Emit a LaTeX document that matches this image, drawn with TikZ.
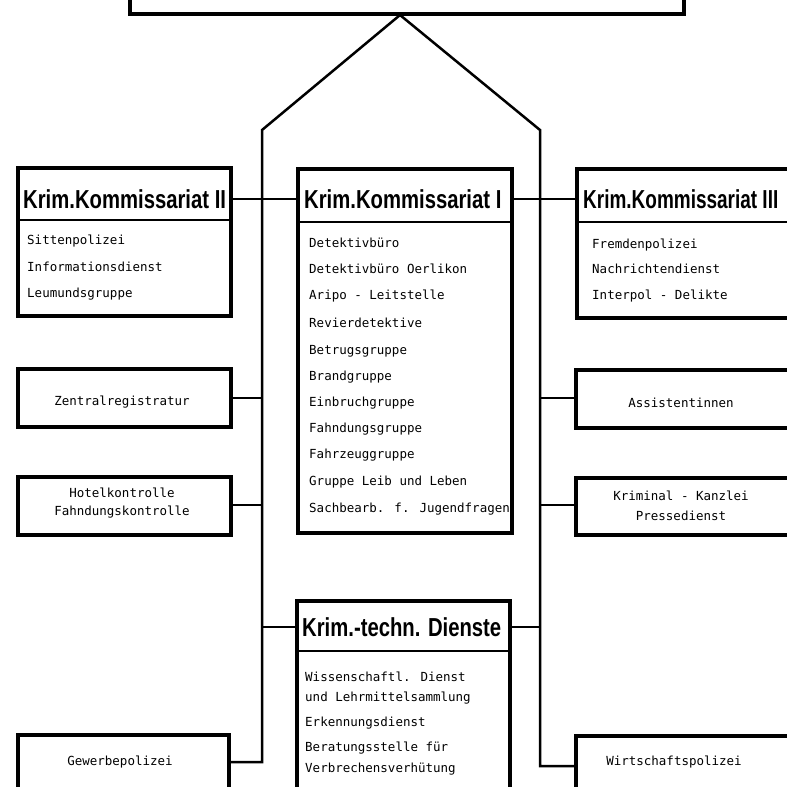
\documentclass[tikz,border=0pt]{standalone}
\usepackage{fontspec}
\newfontfamily\titlefont[FakeStretch=0.78]{Liberation Sans}
\newfontfamily\titlefontn[FakeStretch=0.73]{Liberation Sans}
\newfontfamily\itemfont{DejaVu Sans Mono}
\begin{document}
\begin{tikzpicture}[x=1pt,y=-1pt,
  box/.style={draw, line width=4pt, inner sep=0pt, anchor=north west},
  conn/.style={line width=2.5pt},
  divline/.style={line width=2pt},
  ttl/.style={font=\titlefont\fontsize{26}{26}\selectfont\bfseries, inner sep=0pt, anchor=west},
  itm/.style={font=\itemfont\fontsize{12.5}{12.5}\selectfont, inner sep=0pt, anchor=west},
  ctr/.style={font=\itemfont\fontsize{12.5}{12.5}\selectfont, inner sep=0pt, align=center}]
\useasboundingbox (0,0) rectangle (787,787);
\clip (0,0) rectangle (787,787);
\fill[white] (0,0) rectangle (787,787);

% boxes (border path at line centre)
\node[box, minimum width=554pt, minimum height=80pt] (top) at (128,-68) {};
\node[box, minimum width=213pt, minimum height=148pt] (k2) at (16,166) {};
\node[box, minimum width=214pt, minimum height=364pt] (k1) at (296,167) {};
\node[box, minimum width=214pt, minimum height=149pt] (k3) at (575,167) {};
\node[box, minimum width=213pt, minimum height=58pt] (zr) at (16,367) {};
\node[box, minimum width=213pt, minimum height=58pt] (hk) at (16,475) {};
\node[box, minimum width=211pt, minimum height=80pt] (gw) at (16,733) {};
\node[box, minimum width=213pt, minimum height=200pt] (tk) at (295,599) {};
\node[box, minimum width=214pt, minimum height=58pt] (as) at (574,368) {};
\node[box, minimum width=214pt, minimum height=57pt] (kk) at (574,476) {};
\node[box, minimum width=214pt, minimum height=80pt] (wp) at (574,734) {};

% dividers
\draw[divline] (k2.west |- 0,220) -- (k2.east |- 0,220);
\draw[divline] (k1.west |- 0,222) -- (k1.east |- 0,222);
\draw[divline] (k3.west |- 0,222) -- (k3.east |- 0,222);
\draw[divline] (tk.west |- 0,651) -- (tk.east |- 0,651);

% titles
\node[ttl] (k2t) at (23,199) {Krim.Kommissariat II};
\node[ttl] (k1t) at (304,199) {Krim.Kommissariat I};
\node[ttl, font=\titlefontn\fontsize{26}{26}\selectfont\bfseries] (k3t) at (583,199) {Krim.Kommissariat III};
\node[ttl] (tkt) at (302,627) {Krim.-techn. Dienste};

% items
\node[itm] (k2a) at (27,241) {Sittenpolizei};
\node[itm] (k2b) at (27,267) {Informationsdienst};
\node[itm] (k2c) at (27,294) {Leumundsgruppe};

\node[itm] (k1a) at (309,243) {Detektivbüro};
\node[itm] (k1b) at (309,269) {Detektivbüro Oerlikon};
\node[itm] (k1c) at (309,296) {Aripo - Leitstelle};
\node[itm] (k1d) at (309,323) {Revierdetektive};
\node[itm] (k1e) at (309,351) {Betrugsgruppe};
\node[itm] (k1f) at (309,377) {Brandgruppe};
\node[itm] (k1g) at (309,403) {Einbruchgruppe};
\node[itm] (k1h) at (309,429) {Fahndungsgruppe};
\node[itm] (k1i) at (309,455) {Fahrzeuggruppe};
\node[itm] (k1j) at (309,482) {Gruppe Leib und Leben};
\node[itm] (k1k) at (309,509) {Sachbearb. f. Jugendfragen};

\node[itm] (k3a) at (592,245) {Fremdenpolizei};
\node[itm] (k3b) at (592,269) {Nachrichtendienst};
\node[itm] (k3c) at (592,296) {Interpol - Delikte};

\node[itm] (tka) at (305,677) {Wissenschaftl. Dienst};
\node[itm] (tkb) at (305,698) {und Lehrmittelsammlung};
\node[itm] (tkc) at (305,723) {Erkennungsdienst};
\node[itm] (tkd) at (305,748) {Beratungsstelle für};
\node[itm] (tke) at (305,769) {Verbrechensverhütung};

\node[ctr] (zrt) at (122,402) {Zentralregistratur};
\node[ctr] (hkt) at (122,503) {Hotelkontrolle\\[6pt]Fahndungskontrolle};
\node[ctr] (gwt) at (120,762) {Gewerbepolizei};
\node[ctr] (ast) at (681,403) {Assistentinnen};
\node[ctr] (kkt) at (681,506) {Kriminal - Kanzlei\\[7pt]Pressedienst};
\node[ctr] (wpt) at (674,762) {Wirtschaftspolizei};

% connectors
\coordinate (apex) at (400,15);
\coordinate (lt) at (262,130);
\coordinate (rt) at (540,130);
\coordinate (lb) at (262,762);
\coordinate (rb) at (540,766);
\draw[conn, line join=miter] (apex) -- (lt) -- (lb) -- (lb -| gw.east);
\draw[conn, line join=miter] (apex) -- (rt) -- (rb) -- (rb -| wp.west);
\draw[conn] (k2.east |- k2t) -- (k1.west |- k2t);
\draw[conn] (k1.east |- k1t) -- (k3.west |- k1t);
\draw[conn] (zr.east |- 0,398) -- (lt |- 0,398);
\draw[conn] (hk.east |- 0,505) -- (lt |- 0,505);
\draw[conn] (tk.west |- tkt) -- (lt |- tkt);
\draw[conn] (tk.east |- tkt) -- (rt |- tkt);
\draw[conn] (as.west |- 0,398) -- (rt |- 0,398);
\draw[conn] (kk.west |- 0,505) -- (rt |- 0,505);
\end{tikzpicture}
\end{document}
